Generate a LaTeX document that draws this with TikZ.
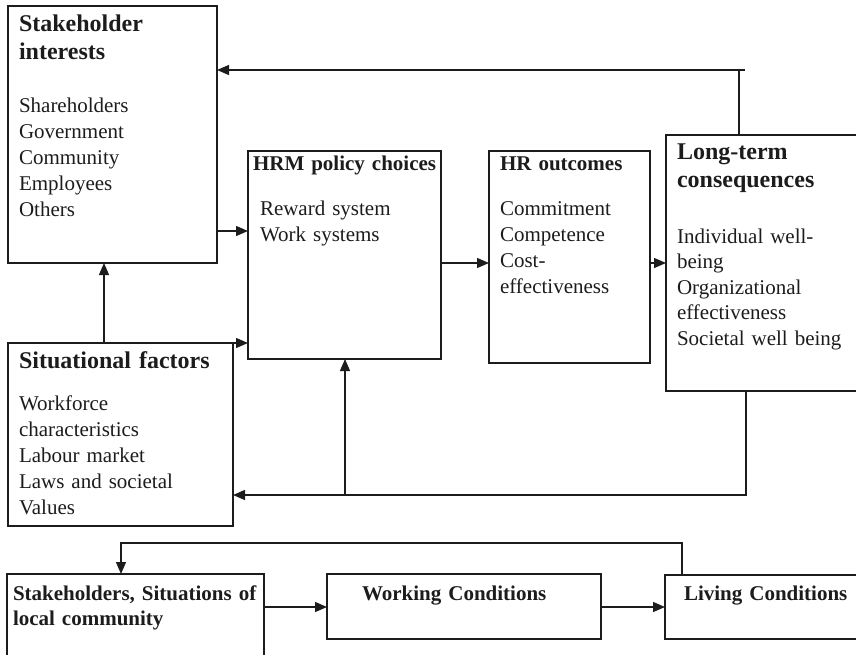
\documentclass[tikz,border=0pt]{standalone}
\usepackage{fontspec}
\setmainfont{Liberation Serif}
\usetikzlibrary{arrows.meta}
\definecolor{ink}{HTML}{1C1C1C}
\tikzset{
  box/.style={draw=ink, line width=1.8pt, anchor=north west, inner sep=0pt, outer sep=0pt},
  txt/.style={anchor=base west, inner sep=0pt, outer sep=0pt, align=left, text=ink, text width=330pt},
  big/.style={txt, font=\fontsize{24}{28}\selectfont\bfseries},
  mid/.style={txt, font=\fontsize{21}{25}\selectfont\bfseries},
  body/.style={txt, font=\fontsize{21}{26}\selectfont},
  link/.style={draw=ink, line width=1.3pt},
  arr/.style={link, -{Triangle[length=12pt,width=10pt]}}
}
\begin{document}
\begin{tikzpicture}[x=1pt, y=-1pt]
\useasboundingbox (0,0) rectangle (856,655);
\clip (0,0) rectangle (856,655);

% upper model: boxes
\node[box, minimum width=209pt, minimum height=257pt] (si) at (8,6) {};
\node[box, minimum width=225pt, minimum height=183pt] (sf) at (8,343) {};
\node[box, minimum width=193pt, minimum height=208pt] (hrm) at (248,151) {};
\node[box, minimum width=161pt, minimum height=212pt] (hr) at (489,151) {};
\node[box, minimum width=260pt, minimum height=256pt] (lt) at (666,135) {};

% upper model: texts
\node[big] (si-h) at (19,32) {Stakeholder\\interests};
\node[body] (si-b) at (19,113) {Shareholders\\Government\\Community\\Employees\\Others};
\node[big] (sf-h) at (19,368) {Situational factors};
\node[body] (sf-b) at (19,410) {Workforce\\characteristics\\Labour market\\Laws and societal\\Values};
\node[mid] (hrm-h) at (253,171) {HRM policy choices};
\node[body] (hrm-b) at (260,215) {Reward system\\Work systems};
\node[mid] (hr-h) at (500,171) {HR outcomes};
\node[body] (hr-b) at (500,215) {Commitment\\Competence\\Cost-\\effectiveness};
\node[big] (lt-h) at (677,160) {Long-term\\consequences};
\node[body, font=\fontsize{21}{25.5}\selectfont] (lt-b) at (677,243) {Individual well-\\being\\Organizational\\effectiveness\\Societal well being};

% upper model: connectors
\draw[arr] (si.east |- 0,231) -- (hrm.west |- 0,231);
\draw[arr] (sf.north east) -- (hrm.west |- sf.north east);
\draw[arr] (sf.north -| 104,0) -- (si.south -| 104,0);
\draw[arr] (hrm.east |- 0,263) -- (hr.west |- 0,263);
\draw[arr] (hr.east |- 0,263) -- (lt.west |- 0,263);

\coordinate (top-r) at (745,70);
\coordinate (top-v) at (739,70);
\draw[link] (lt.north -| top-v) -- (top-v);
\draw[arr] (top-r) -- (si.east |- top-r);

\coordinate (bot-r) at (746,495);
\coordinate (bot-m) at (345,495);
\draw[arr] (lt.south -| bot-r) -- (bot-r) -- (sf.east |- bot-r);
\draw[arr] (bot-m) -- (hrm.south -| bot-m);

% lower model
\node[box, minimum width=257pt, minimum height=110pt] (loc) at (7,574) {};
\node[box, minimum width=274pt, minimum height=65pt] (work) at (327,574) {};
\node[box, minimum width=260pt, minimum height=64pt] (live) at (665,575) {};

\node[mid] (loc-t) at (13,600) {Stakeholders, Situations of\\local community};
\node[mid] (work-t) at (362,600) {Working Conditions};
\node[mid] (live-t) at (684,600) {Living Conditions};

\draw[arr] (loc.east |- 0,607) -- (work.west |- 0,607);
\draw[arr] (work.east |- 0,607) -- (live.west |- 0,607);

\coordinate (ret-r) at (682,543);
\coordinate (ret-l) at (121,543);
\draw[arr] (live.north -| ret-r) -- (ret-r) -- (ret-l) -- (loc.north -| ret-l);
\end{tikzpicture}
\end{document}
